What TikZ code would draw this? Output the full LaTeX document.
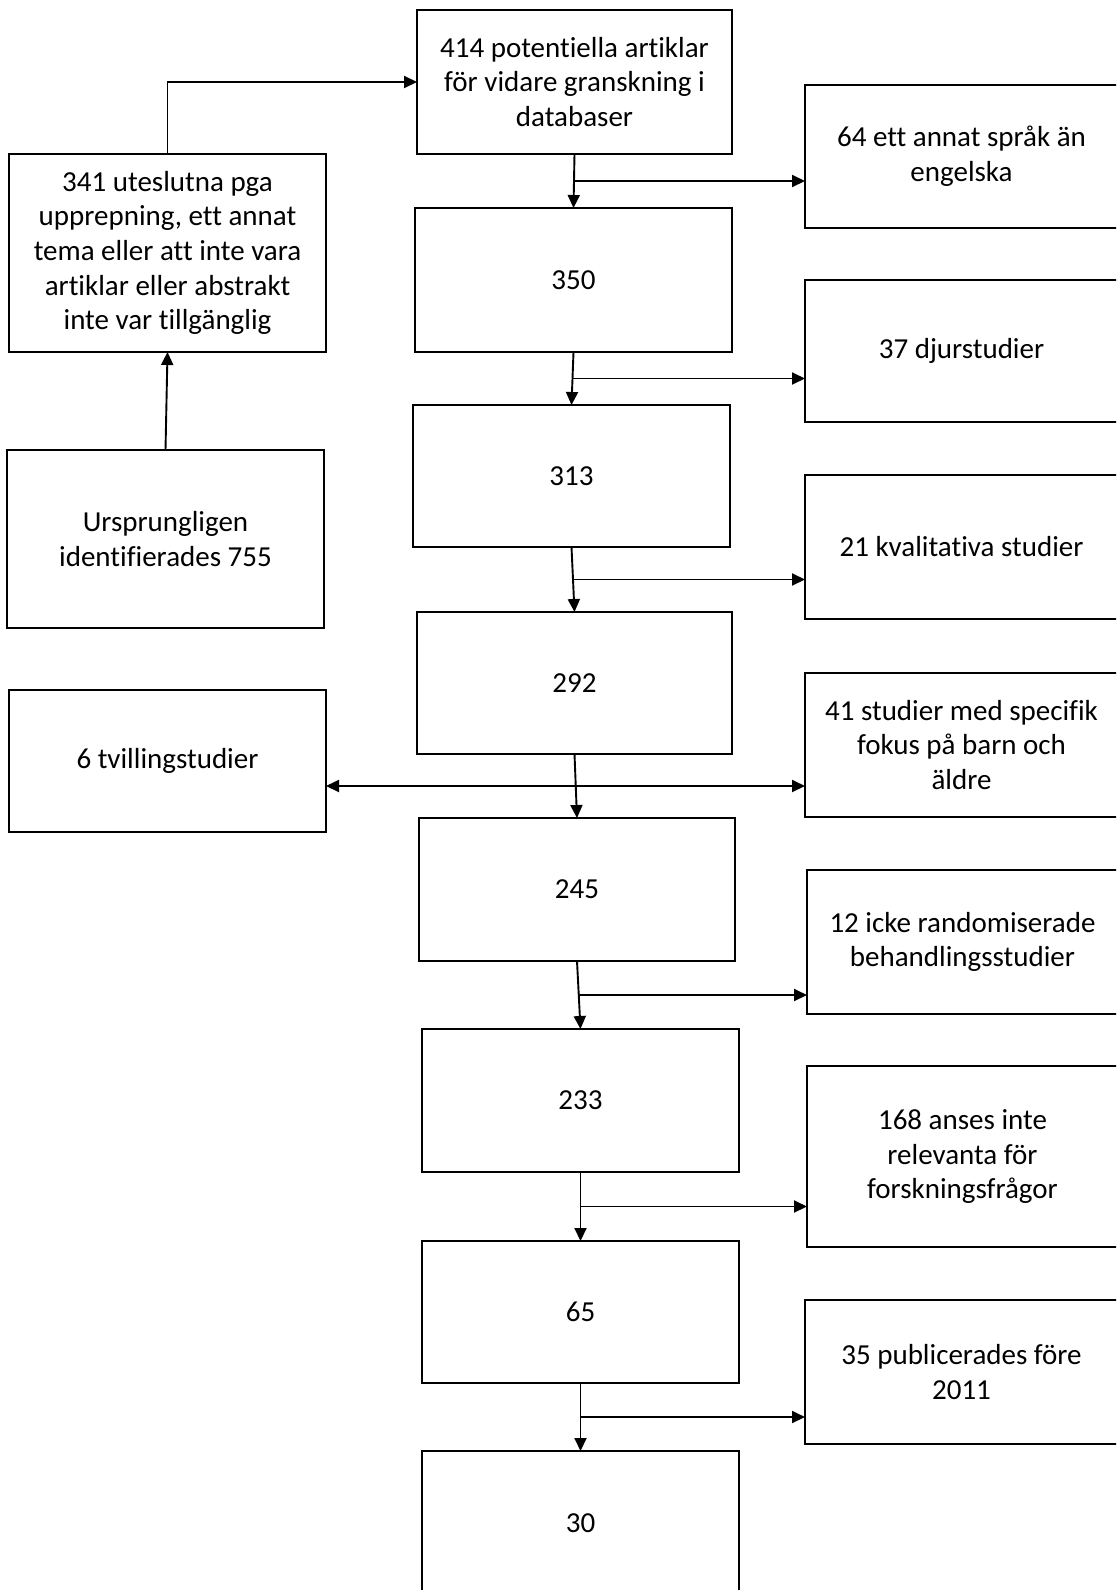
\documentclass[tikz,border=0pt]{standalone}
\usepackage{fontspec}
\setmainfont{Carlito}[Ligatures={NoCommon}]
\usetikzlibrary{arrows.meta,calc}
\tikzset{
  bx/.style={draw=black, line width=0.75pt, rectangle, inner sep=0pt, outer sep=0pt, align=center,
    font=\fontsize{14.5pt}{17.3pt}\selectfont},
  arr/.style={draw=black, line width=0.95pt, -{Triangle[length=6.5pt,width=6pt]}}
}
\newcommand\mybox[6]{%
  \node[bx, minimum width={(#4-#2)*0.5pt}, minimum height={(#5-#3)*0.5pt}] (#1)
    at ({(#2+#4)/2},{(#3+#5)/2}) {#6};}
\begin{document}
\begin{tikzpicture}[x=0.5pt,y=-0.5pt]
\useasboundingbox (0,0) rectangle (1116,1590);
\clip (0,0) rectangle (1116,1590);
\fill[white] (0,0) rectangle (1116,1590);
% left column
\mybox{A}{417}{10}{732}{154}{414 potentiella artiklar\\för vidare granskning i\\databaser}
\mybox{B}{9}{154}{326}{352}{341 uteslutna pga\\upprepning, ett annat\\tema eller att inte vara\\artiklar eller abstrakt\\inte var tillgänglig}
\mybox{C}{7}{450}{324}{628}{Ursprungligen\\identifierades 755}
\mybox{D}{9}{690}{326}{832}{6 tvillingstudier}
% main column
\mybox{N350}{415}{208}{732}{352}{350}
\mybox{N313}{413}{405}{730}{547}{313}
\mybox{N292}{417}{612}{732}{754}{292}
\mybox{N245}{419}{818}{735}{961}{245}
\mybox{N233}{422}{1029}{739}{1172}{233}
\mybox{N65}{422}{1241}{739}{1383}{65}
\mybox{N30}{422}{1451}{739}{1595}{30}
% right column
\mybox{R64}{805}{85}{1118}{228}{64 ett annat språk än\\engelska}
\mybox{R37}{805}{280}{1118}{422}{37 djurstudier}
\mybox{R21}{805}{475}{1118}{619}{21 kvalitativa studier}
\mybox{R41}{805}{673}{1118}{817}{41 studier med specifik\\fokus på barn och\\äldre}
\mybox{R12}{807}{870}{1118}{1014}{12 icke randomiserade\\behandlingsstudier}
\mybox{R168}{807}{1066}{1118}{1247}{168 anses inte\\relevanta för\\forskningsfrågor}
\mybox{R35}{805}{1300}{1118}{1444}{35 publicerades före\\2011}
% connectors
\draw[arr] (C.north) -- (B.south);
\draw[arr] (B.north) |- (A.west);
\draw[arr] (A.south) -- (N350.north);
\draw[arr] (N350.south) -- (N313.north);
\draw[arr] (N313.south) -- (N292.north);
\draw[arr] (N292.south) -- (N245.north);
\draw[arr] (N245.south) -- (N233.north);
\draw[arr] (N233.south) -- (N65.north);
\draw[arr] (N65.south) -- (N30.north);
\coordinate (m1) at ($(A.south)!.5!(N350.north)$);
\coordinate (m2) at ($(N350.south)!.5!(N313.north)$);
\coordinate (m3) at ($(N313.south)!.5!(N292.north)$);
\coordinate (m4) at ($(N292.south)!.5!(N245.north)$);
\coordinate (m5) at ($(N245.south)!.5!(N233.north)$);
\coordinate (m6) at ($(N233.south)!.5!(N65.north)$);
\coordinate (m7) at ($(N65.south)!.5!(N30.north)$);
\draw[arr] (m1) -- (m1 -| R64.west);
\draw[arr] (m2) -- (m2 -| R37.west);
\draw[arr] (m3) -- (m3 -| R21.west);
\draw[arr] (m4) -- (m4 -| R41.west);
\draw[arr] (m4) -- (m4 -| D.east);
\draw[arr] (m5) -- (m5 -| R12.west);
\draw[arr] (m6) -- (m6 -| R168.west);
\draw[arr] (m7) -- (m7 -| R35.west);
\end{tikzpicture}
\end{document}
